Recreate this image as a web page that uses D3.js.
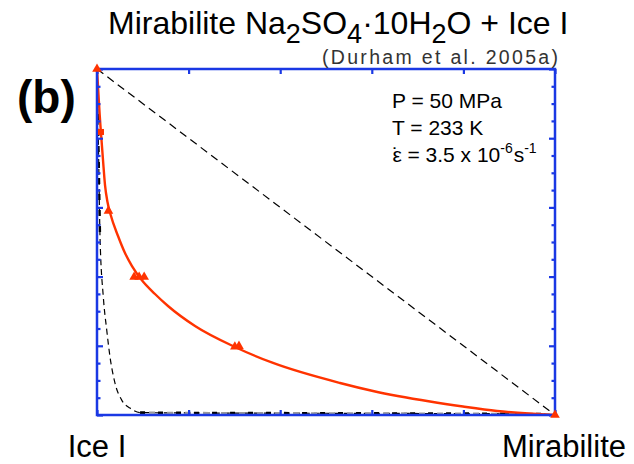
<!DOCTYPE html>
<html>
<head>
<meta charset="utf-8">
<script src="https://cdn.jsdelivr.net/npm/d3@7"></script>
<style>
  html, body { margin: 0; padding: 0; background: #fff; }
  svg { display: block; }
  text { font-family: "Liberation Sans", Arial, Helvetica, sans-serif; }
</style>
</head>
<body>
<div id="chart"></div>
<script>
// ---- data (normalized: x = mirabilite fraction, y = normalized strength) ----
const endLabels = ["Ice I", "Mirabilite"];
const xTicks = [0, 0.2, 0.4, 0.6, 0.8, 1.0];
const yMajorTicks = [0, 0.2, 0.4, 0.6, 0.8, 1.0];
const yMinorTicks = [0.05, 0.1, 0.15, 0.25, 0.3, 0.35, 0.45, 0.5, 0.55, 0.65, 0.7, 0.75, 0.85, 0.9, 0.95];

// fitted flow-law curve (red)
const fitX = [0, 0.0033, 0.0059, 0.0087, 0.0131, 0.0175, 0.0229, 0.0299, 0.0459, 0.0611, 0.0764, 0.0976, 0.1266, 0.155, 0.214, 0.3013, 0.3843, 0.5306, 0.6026, 0.7271, 0.7991, 0.8734, 1.0];
const fitY = [1, 0.9249, 0.8671, 0.815, 0.737, 0.6647, 0.6156, 0.578, 0.5173, 0.4682, 0.4306, 0.3902, 0.3497, 0.3150, 0.2572, 0.1965, 0.1503, 0.0925, 0.0694, 0.039, 0.0246, 0.0116, 0];

// measured points
const triX = [0, 0.025, 0.081, 0.092, 0.103, 0.301, 0.310, 1.0];
const triY = [1, 0.59, 0.399, 0.399, 0.399, 0.197, 0.199, 0];
const sqX = [0.0087];
const sqY = [0.818];

// upper bound (isostrain) – straight line
const upperX = [0, 1];
const upperY = [1, 0];

// lower bound (isostress)
const lowerX = [0, 0.0033, 0.0066, 0.0138, 0.0212, 0.0284, 0.0393, 0.054, 0.072, 0.094, 0.2, 0.5, 0.8, 0.97, 1.0];
const lowerY = [1, 0.766, 0.514, 0.341, 0.246, 0.168, 0.092, 0.043, 0.020, 0.007, 0.006, 0.005, 0.004, 0.003, 0];

// ---- drawing ----
(function () {
const W = 634, H = 464;
const mL = 97, mR = 555, mT = 69, mB = 415;
const blue = "#1a38e4", red = "#ff3300";

const svg = d3.select("#chart").append("svg").attr("width", W).attr("height", H);

const x = d3.scaleLinear().domain([0, 1]).range([mL, mR]);
const y = d3.scaleLinear().domain([0, 1]).range([mB, mT]);

const pts = (xs, ys) => xs.map((v, i) => [v, ys[i]]);
const line = d3.line().x(d => x(d[0])).y(d => y(d[1]));
const mono = d3.line().x(d => x(d[0])).y(d => y(d[1])).curve(d3.curveMonotoneX);

// upper dashed line
svg.append("path").attr("d", line(pts(upperX, upperY)))
  .attr("fill", "none").attr("stroke", "#000").attr("stroke-width", 1.2)
  .attr("stroke-dasharray", "8,5");

// lower bound: thin dashed + thicker dashed overlay (gray/black)
const lowerPts = pts(lowerX, lowerY);
svg.append("path").attr("d", mono(lowerPts))
  .attr("fill", "none").attr("stroke", "#000").attr("stroke-width", 1.2)
  .attr("stroke-dasharray", "6,4");
const flatPts = lowerPts.filter(d => d[0] >= 0.094 && d[0] <= 0.97);
svg.append("path").attr("d", line(flatPts))
  .attr("fill", "none").attr("stroke", "#999").attr("stroke-width", 2.2)
  .attr("stroke-dasharray", "6,12").attr("stroke-dashoffset", 9);
svg.append("path").attr("d", line(flatPts))
  .attr("fill", "none").attr("stroke", "#000").attr("stroke-width", 2.6)
  .attr("stroke-dasharray", "5,13");
const steepPts = lowerPts.filter(d => d[1] >= 0.5);
svg.append("path").attr("d", line(steepPts))
  .attr("fill", "none").attr("stroke", "#000").attr("stroke-width", 2.4)
  .attr("stroke-dasharray", "6,10").attr("stroke-dashoffset", 3);

// red fit curve
svg.append("path").attr("d", mono(pts(fitX, fitY)))
  .attr("fill", "none").attr("stroke", red).attr("stroke-width", 2.4);

// frame
svg.append("rect").attr("x", mL).attr("y", mT)
  .attr("width", mR - mL).attr("height", mB - mT)
  .attr("fill", "none").attr("stroke", blue).attr("stroke-width", 2.5);

// ticks via d3 axes (inward)
const gx = svg.append("g");
gx.append("g").attr("transform", `translate(0,${mB})`)
  .call(d3.axisTop(x).tickValues(xTicks).tickSize(5).tickFormat(""));
gx.append("g").attr("transform", `translate(0,${mT})`)
  .call(d3.axisBottom(x).tickValues(xTicks).tickSize(5).tickFormat(""));
gx.append("g").attr("transform", `translate(${mL},0)`)
  .call(d3.axisRight(y).tickValues(yMajorTicks).tickSize(6).tickFormat(""));
gx.append("g").attr("transform", `translate(${mL},0)`)
  .call(d3.axisRight(y).tickValues(yMinorTicks).tickSize(3.5).tickFormat(""));
gx.append("g").attr("transform", `translate(${mR},0)`)
  .call(d3.axisLeft(y).tickValues(yMajorTicks).tickSize(6).tickFormat(""));
gx.append("g").attr("transform", `translate(${mR},0)`)
  .call(d3.axisLeft(y).tickValues(yMinorTicks).tickSize(3.5).tickFormat(""));
gx.selectAll(".domain").remove();
gx.selectAll(".tick line").attr("stroke", blue).attr("stroke-width", 2.2);

// markers
const tri = d3.symbol().type(d3.symbolTriangle).size(40);
svg.append("g").selectAll("path").data(pts(triX, triY)).join("path")
  .attr("d", tri).attr("transform", d => `translate(${x(d[0])},${y(d[1])})`)
  .attr("fill", red);
svg.append("g").selectAll("rect").data(pts(sqX, sqY)).join("rect")
  .attr("x", d => x(d[0]) - 3).attr("y", d => y(d[1]) - 3)
  .attr("width", 6).attr("height", 6).attr("fill", red);

// title
const t = svg.append("text").attr("x", 108).attr("y", 34)
  .attr("font-size", 32).attr("fill", "#000");
t.append("tspan").text("Mirabilite Na");
t.append("tspan").attr("dy", 9).attr("font-size", 27).text("2");
t.append("tspan").attr("dy", -9).text("SO");
t.append("tspan").attr("dy", 9).attr("font-size", 27).text("4");
t.append("tspan").attr("dy", -9).text("·10H");
t.append("tspan").attr("dy", 9).attr("font-size", 27).text("2");
t.append("tspan").attr("dy", -9).text("O + Ice I");

svg.append("text").attr("x", 322).attr("y", 64)
  .attr("font-size", 19.5).attr("fill", "#333")
  .attr("textLength", 236).attr("lengthAdjust", "spacing")
  .text("(Durham et al. 2005a)");

// panel label
svg.append("text").attr("x", 17).attr("y", 113)
  .attr("font-size", 46).attr("font-weight", "bold").attr("fill", "#000")
  .text("(b)");

// conditions
const ann = svg.append("g").attr("font-size", 21).attr("fill", "#000");
ann.append("text").attr("x", 392).attr("y", 108).text("P = 50 MPa");
ann.append("text").attr("x", 392).attr("y", 135).text("T = 233 K");
const e = ann.append("text").attr("x", 392).attr("y", 162);
e.append("tspan").text("ε");
e.append("tspan").attr("dx", -9.8).attr("dy", 0).text("˙");
e.append("tspan").attr("dx", 2.6).text(" = 3.5 x 10");
e.append("tspan").attr("dy", -9).attr("font-size", 14).text("-6");
e.append("tspan").attr("dy", 9).attr("dx", 1).text("s");
e.append("tspan").attr("dy", -9).attr("font-size", 14).text("-1");

// end labels
svg.append("text").attr("x", x(0)).attr("y", 457).attr("text-anchor", "middle")
  .attr("font-size", 31).attr("fill", "#000").text(endLabels[0]);
svg.append("text").attr("x", 626).attr("y", 457).attr("text-anchor", "end")
  .attr("font-size", 31).attr("fill", "#000").text(endLabels[1]);
})();
</script>
</body>
</html>
